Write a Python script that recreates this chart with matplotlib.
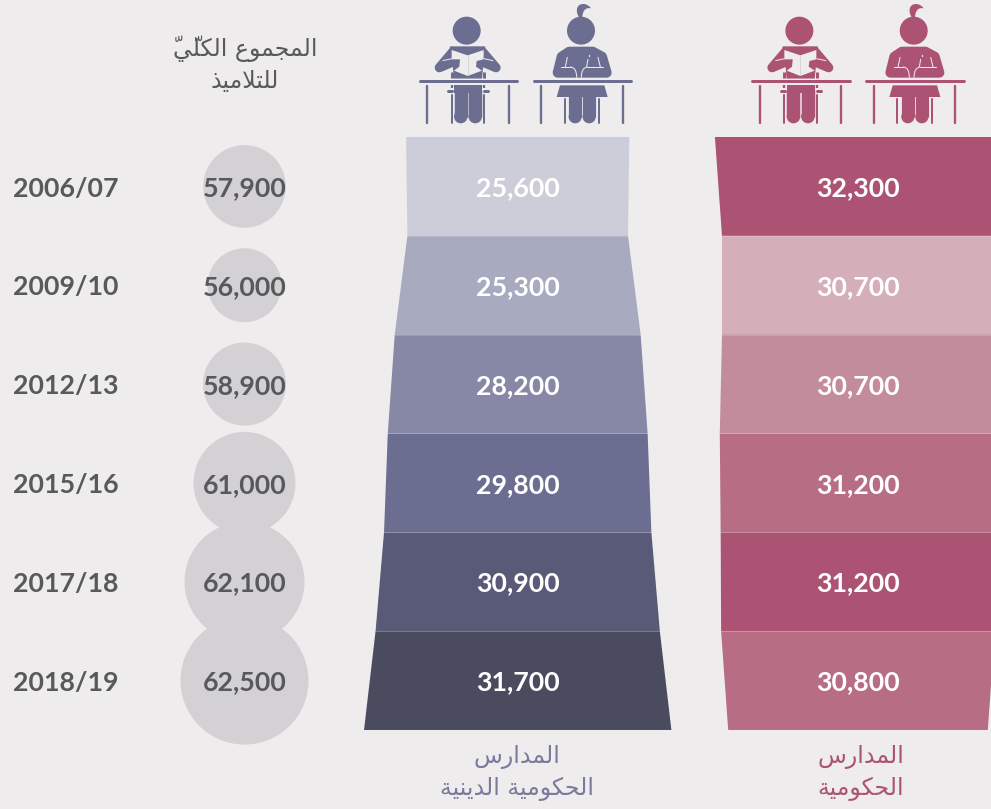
import numpy as np
import matplotlib
matplotlib.use("Agg")
import matplotlib.pyplot as plt
from matplotlib.patches import Circle, Polygon, PathPatch
from matplotlib.path import Path

# ---------- data ----------
years = ["2006/07", "2009/10", "2012/13", "2015/16", "2017/18", "2018/19"]
totals = [57900, 56000, 58900, 61000, 62100, 62500]
religious = [25600, 25300, 28200, 29800, 30900, 31700]
public = [32300, 30700, 30700, 31200, 31200, 30800]
# widths the funnel outlines reach at each row boundary (top to bottom)
religious_edges = [25600, 25300, 28200, 29800, 30660, 32600, 35250]
public_edges = [32300, 30700, 30700, 31200, 31000, 30900, 29300]
title_total = ["المجموع الكلّيّ", "للتلاميذ"]
title_religious = ["المدارس", "الحكومية الدينية"]
title_public = ["المدارس", "الحكومية"]

# ---------- style ----------
BG = "#eeeced"
CIRCLE = "#d3d1d4"
DARK = "#58595b"
PURPLE = "#6c6e91"
PINK = "#ac5373"
purple_fill = ["#cdcdd9", "#a8aabf", "#8688a6", "#6c6e91", "#585a77", "#4a4b5f"]
pink_fill = ["#ac5373", "#d4aeb9", "#c38c9b", "#b76e85", "#ac5373", "#b76e85"]
ROW_TOP, ROW_H = 137.0, 98.83
LATIN = "Lato"
NUM_SIZE = 19.3
radius_knots_v = [56000, 57900, 58900, 61000, 62100, 62500]
radius_knots_r = [37, 41.3, 41.5, 51, 60, 64]
PX_PER_UNIT_L = 8.72 / 1000
PX_PER_UNIT_R = 8.86 / 1000

# ---------- Arabic shaping (matplotlib draws glyphs left to right, unshaped) ----------
FORMS = {
    "ا": (0xFE8D, 0xFE8E, None, None), "ت": (0xFE95, 0xFE96, 0xFE97, 0xFE98),
    "ج": (0xFE9D, 0xFE9E, 0xFE9F, 0xFEA0), "ح": (0xFEA1, 0xFEA2, 0xFEA3, 0xFEA4),
    "د": (0xFEA9, 0xFEAA, None, None), "ذ": (0xFEAB, 0xFEAC, None, None),
    "ر": (0xFEAD, 0xFEAE, None, None), "س": (0xFEB1, 0xFEB2, 0xFEB3, 0xFEB4),
    "ع": (0xFEC9, 0xFECA, 0xFECB, 0xFECC), "ك": (0xFED9, 0xFEDA, 0xFEDB, 0xFEDC),
    "ل": (0xFEDD, 0xFEDE, 0xFEDF, 0xFEE0), "م": (0xFEE1, 0xFEE2, 0xFEE3, 0xFEE4),
    "ن": (0xFEE5, 0xFEE6, 0xFEE7, 0xFEE8), "و": (0xFEED, 0xFEEE, None, None),
    "ي": (0xFEF1, 0xFEF2, 0xFEF3, 0xFEF4), "ة": (0xFE93, 0xFE94, None, None),
}
MARK = "\u0651"


def shape_word(word):
    clusters = []
    for ch in word:
        if ch == MARK:
            clusters[-1][1] += ch
        else:
            clusters.append([ch, ""])
    merged = []
    i = 0
    while i < len(clusters):
        if clusters[i][0] == "ل" and i + 1 < len(clusters) and clusters[i + 1][0] == "ا":
            merged.append(["LA", clusters[i][1]])
            i += 2
        else:
            merged.append(clusters[i])
            i += 1
    out = []
    for k, (ch, mark) in enumerate(merged):
        prev = merged[k - 1][0] if k else None
        joins_prev = prev is not None and prev != "LA" and FORMS[prev][2] is not None
        has_next = k + 1 < len(merged)
        can_next = ch != "LA" and FORMS[ch][2] is not None
        if ch == "LA":
            g = chr(0xFEFC if joins_prev else 0xFEFB)
        elif joins_prev and has_next and can_next:
            g = chr(FORMS[ch][3])
        elif joins_prev:
            g = chr(FORMS[ch][1])
        elif has_next and can_next:
            g = chr(FORMS[ch][2])
        else:
            g = chr(FORMS[ch][0])
        out.append(mark + g)
    return "".join(reversed(out))


def shape(text):
    return " ".join(shape_word(w) for w in reversed(text.split(" ")))


# ---------- canvas ----------
fig = plt.figure(figsize=(9.91, 8.09), dpi=100, facecolor=BG)
ax = fig.add_axes([0, 0, 1, 1])
ax.set_xlim(0, 991)
ax.set_ylim(809, 0)
ax.axis("off")

edge_y = [ROW_TOP + ROW_H * i for i in range(7)]
row_y = [ROW_TOP + ROW_H * (i + 0.5) for i in range(6)]


def funnel(cx, edges, scale, fills):
    for i, col in enumerate(fills):
        t, b = edges[i] * scale / 2, edges[i + 1] * scale / 2
        ax.add_patch(Polygon([(cx - t, edge_y[i]), (cx + t, edge_y[i]),
                              (cx + b, edge_y[i + 1]), (cx - b, edge_y[i + 1])],
                             closed=True, fc=col, ec="none", zorder=2))
        if i:
            ax.plot([cx - t, cx + t], [edge_y[i], edge_y[i]], color="white", alpha=0.18,
                    lw=0.7, zorder=2.5)


funnel(517.7, religious_edges, PX_PER_UNIT_L, purple_fill)
funnel(858, public_edges, PX_PER_UNIT_R, pink_fill)

for y, v in zip(row_y, totals):
    r = float(np.interp(v, radius_knots_v, radius_knots_r))
    ax.add_patch(Circle((244.5, y), r, fc=CIRCLE, ec="none", zorder=1))


def num(x, y, s, color, ha="center"):
    ax.text(x, y + 9.8, s, ha=ha, va="baseline", family=LATIN, weight="bold",
            fontsize=NUM_SIZE, color=color, zorder=5)


for i, y in enumerate(row_y):
    num(13, y + 0.4, years[i], DARK, ha="left")
    num(245, y, f"{totals[i]:,}", DARK)
    num(518, y, f"{religious[i]:,}", "white")
    num(858, y, f"{public[i]:,}", "white")


def ar(x, y, s, color, size=17):
    ax.text(x, y, shape(s), ha="center", va="baseline", family="DejaVu Sans",
            fontsize=size, color=color, zorder=5)


ar(245, 56, title_total[0], DARK)
ar(245, 88, title_total[1], DARK)
ar(517, 763, title_religious[0], "#7a7b9c")
ar(517, 795, title_religious[1], "#7a7b9c")
ar(861, 763, title_public[0], PINK)
ar(861, 795, title_public[1], PINK)


# ---------- pictograms, drawn in 3x-zoom units relative to an origin ----------
def seg(ox, pts, w, color, cap="round", z=3):
    xs = [ox + p[0] / 3 for p in pts]
    ys = [p[1] / 3 for p in pts]
    ax.plot(xs, ys, color=color, lw=w / 3 * 0.72, solid_capstyle=cap,
            solid_joinstyle="round", zorder=z)


def poly(ox, pts, color, round_w=0, z=3):
    ax.add_patch(Polygon([(ox + p[0] / 3, p[1] / 3) for p in pts], closed=True, fc=color,
                         ec=color if round_w else "none", lw=round_w / 3 * 0.72,
                         joinstyle="round", zorder=z))


def dot(ox, x, y, r, c, z=3):
    ax.add_patch(Circle((ox + x / 3, y / 3), r / 3, fc=c, ec="none", zorder=z))


def curve(ox, p0, p1, p2, w, c, z=4):
    verts = [(ox + x / 3, y / 3) for x, y in (p0, p1, p2)]
    ax.add_patch(PathPatch(Path(verts, [Path.MOVETO, Path.CURVE3, Path.CURVE3]), fc="none",
                           ec=c, lw=w / 3 * 0.72, capstyle="round", zorder=z))


def leg(ox, x, top, w, c):
    seg(ox, [(x, top), (x, 370 - w / 2)], w, c, cap="butt")
    dot(ox, x, 370 - w / 2, w / 2, c)


def furniture(ox, c, a, b):
    seg(ox, [(a, 244), (b, 244)], 9, c)
    seg(ox, [(a + 23, 258), (a + 23, 368)], 7, c)
    seg(ox, [(b - 25, 258), (b - 25, 368)], 7, c)


def boy(ox, c):
    furniture(ox, c, 59, 351)
    dot(ox, 200, 92, 42, c)
    poly(ox, [(150, 139), (255, 139), (262, 170), (250, 195), (246, 235), (162, 235),
              (158, 195), (145, 170)], c)
    for s in (1, -1):
        ex, hx = 203 - s * 85, 203 - s * 45
        seg(ox, [(203 - s * 45, 156), (ex, 203), (hx, 186)], 28, c)
    poly(ox, [(155, 150), (203, 166), (251, 150), (251, 178), (230, 183), (228, 200),
              (246, 212), (203, 228), (162, 212), (178, 200), (180, 178), (155, 178)], BG, 0, z=4)
    seg(ox, [(203, 166), (203, 226)], 2, "#c9c8cc", cap="butt", z=4)
    seg(ox, [(128, 182), (156, 176)], 3, BG, cap="butt", z=4)
    seg(ox, [(252, 176), (280, 182)], 3, BG, cap="butt", z=4)
    poly(ox, [(162, 214), (203, 230), (246, 214), (246, 235), (162, 235)], c, 0, z=4)
    for x in (155, 253):
        seg(ox, [(x, 215), (x, 234)], 9, c, cap="butt")
        seg(ox, [(x, 256), (x, 263)], 7, c, cap="butt")
        seg(ox, [(x, 284), (x, 368)], 6, c, cap="round")
    seg(ox, [(144, 274), (156, 274)], 9, c)
    seg(ox, [(252, 274), (264, 274)], 9, c)
    poly(ox, [(162, 256), (246, 256), (246, 280), (162, 280)], c)
    leg(ox, 182.3, 270, 40.5, c)
    leg(ox, 225.7, 270, 40.5, c)


def girl(ox, c):
    furniture(ox, c, 401, 693)
    dot(ox, 543, 92, 42, c)
    verts = [(537, 52), (525, 32), (530, 12), (550, 12), (560, 12), (568, 18), (573, 25),
             (560, 22), (548, 28), (547, 52), (537, 52)]
    codes = [Path.MOVETO] + [Path.CURVE4] * 9 + [Path.CLOSEPOLY]
    ax.add_patch(PathPatch(Path([(ox + x / 3, y / 3) for x, y in verts], codes), fc=c, ec="none", zorder=3))
    poly(ox, [(508, 155), (578, 155), (606, 170), (620, 218), (473, 218), (485, 170)], c, 30)
    L = 3
    seg(ox, [(502, 172), (496, 201)], L, BG, z=4)
    seg(ox, [(484, 201), (512, 201)], L, BG, z=4)
    curve(ox, (512, 201), (530, 203), (530, 232), L, BG)
    seg(ox, [(594, 172), (601, 201)], L, BG, z=4)
    seg(ox, [(610, 201), (562, 201)], L, BG, z=4)
    curve(ox, (562, 201), (544, 203), (544, 232), L, BG)
    seg(ox, [(564, 178), (560, 200)], L, BG, z=4)
    seg(ox, [(568, 164), (568, 168)], 4, BG, z=4)
    poly(ox, [(480, 256), (613, 256), (623, 291), (470, 291)], c)
    for x in (494, 597):
        seg(ox, [(x, 298), (x, 368)], 6, c)
    leg(ox, 525.5, 285, 39.5, c)
    leg(ox, 567.5, 285, 39.5, c)


for ox, col in ((400, PURPLE), (732.7, PINK)):
    boy(ox, col)
    girl(ox, col)

fig.savefig("out.png", dpi=100, facecolor=BG)
